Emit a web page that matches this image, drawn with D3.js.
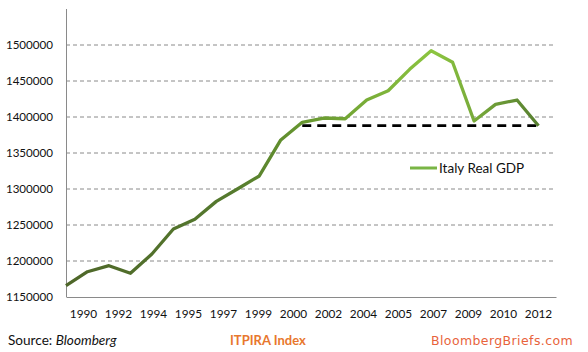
<!DOCTYPE html>
<html><head><meta charset="utf-8">
<script src="https://cdn.jsdelivr.net/npm/d3@7"></script>
<style>
html,body{margin:0;padding:0;background:#fff;}
svg{display:block;}
</style></head>
<body>
<script>
const years = [1990,1991,1992,1993,1994,1995,1996,1997,1998,1999,2000,2001,2002,2003,2004,2005,2006,2007,2008,2009,2010,2011,2012];
const gdp = [1165700,1185100,1193500,1182900,1209700,1244400,1257900,1282800,1300400,1318100,1368100,1392600,1398600,1397600,1423600,1436500,1466200,1492100,1476000,1394400,1417600,1423600,1387900];
const refYears = [2001, 2012];
const refValues = [1388000, 1388000];
const tickLabels = ["1990","1992","1994","1995","1997","1999","2000","2002","2004","2005","2007","2009","2010","2012"];
const yTicks = [1150000,1200000,1250000,1300000,1350000,1400000,1450000,1500000];
const seriesName = "Italy Real GDP";

(function(){
const W = 588, H = 352;
const svg = d3.select("body").append("svg").attr("width", W).attr("height", H);

const mLeft = 66, mRight = 556, mTop = 9, mBottom = 297;
const y = d3.scaleLinear().domain([1150000, 1550000]).range([mBottom, mTop]);
const band = d3.scaleBand().domain(tickLabels).range([mLeft, mRight]).padding(0);
const x = d3.scaleLinear().domain([years[0], years[years.length-1]])
  .range([mLeft, band(tickLabels[tickLabels.length-1]) + band.bandwidth()/2]);

const font = "Lato, 'Open Sans', sans-serif";

// gridlines
svg.append("g").selectAll("line").data(yTicks.filter(d => d > 1150000)).join("line")
  .attr("x1", mLeft).attr("x2", mRight)
  .attr("y1", d => y(d)).attr("y2", d => y(d))
  .attr("stroke", "#8a8a8a").attr("stroke-width", 1).attr("stroke-dasharray", "4,3");

// y axis
const yAxis = svg.append("g").attr("transform", `translate(${mLeft},0)`)
  .call(d3.axisLeft(y).tickValues(yTicks).tickSize(0).tickPadding(13).tickFormat(d3.format("d")));
yAxis.select(".domain").remove();
yAxis.selectAll("text").attr("font-family", font).attr("font-size", 11.6).attr("fill", "#111");
svg.append("line").attr("x1", mLeft + 0.5).attr("x2", mLeft + 0.5).attr("y1", mTop).attr("y2", mBottom)
  .attr("stroke", "#8a8a8a").attr("stroke-width", 1);

// x axis
const xAxis = svg.append("g").attr("transform", `translate(0,${mBottom})`)
  .call(d3.axisBottom(band).tickSize(0).tickPadding(13));
xAxis.select(".domain").attr("stroke", "#8a8a8a");
xAxis.selectAll("text").attr("font-family", font).attr("font-size", 11.8).attr("fill", "#111");

// gradient for line
const defs = svg.append("defs");
const grad = defs.append("linearGradient").attr("id", "lg")
  .attr("gradientUnits", "userSpaceOnUse")
  .attr("x1", x(1990)).attr("x2", x(2012)).attr("y1", 0).attr("y2", 0);
grad.append("stop").attr("offset", "0%").attr("stop-color", "#4e6629");
grad.append("stop").attr("offset", "35%").attr("stop-color", "#557a2e");
grad.append("stop").attr("offset", "50%").attr("stop-color", "#66962f");
grad.append("stop").attr("offset", "78%").attr("stop-color", "#8cc540");
grad.append("stop").attr("offset", "100%").attr("stop-color", "#577f30");

// reference dashed line
svg.append("path")
  .datum(refYears.map((d, i) => [d, refValues[i]]))
  .attr("d", d3.line().x(d => x(d[0])).y(d => y(d[1])))
  .attr("fill", "none").attr("stroke", "#000").attr("stroke-width", 2.6)
  .attr("stroke-dasharray", "9,6");

// main line
svg.append("path")
  .datum(years.map((d, i) => [d, gdp[i]]))
  .attr("d", d3.line().x(d => x(d[0])).y(d => y(d[1])))
  .attr("fill", "none").attr("stroke", "url(#lg)").attr("stroke-width", 3.3)
  .attr("stroke-linejoin", "round");

// legend
svg.append("line").attr("x1", 410).attr("x2", 437).attr("y1", 168).attr("y2", 168)
  .attr("stroke", "#79b545").attr("stroke-width", 3);
svg.append("text").attr("x", 439).attr("y", 173).text(seriesName)
  .attr("font-family", font).attr("font-size", 13.5).attr("fill", "#111");

// footer
const src = svg.append("text").attr("x", 8).attr("y", 345)
  .attr("font-family", font).attr("font-size", 13.6).attr("fill", "#111");
src.append("tspan").text("Source: ");
src.append("tspan").attr("font-style", "italic").text("Bloomberg");

svg.append("text").attr("x", 230).attr("y", 345).text("ITPIRA Index")
  .attr("font-family", font).attr("font-size", 13).attr("font-weight", "bold").attr("fill", "#e8772e");

svg.append("text").attr("x", 431).attr("y", 345).text("BloombergBriefs.com")
  .attr("font-family", "'DejaVu Sans', Verdana, sans-serif").attr("font-size", 12.5)
  .attr("letter-spacing", 0.4).attr("fill", "#e8633c");
})();
</script>
</body></html>
